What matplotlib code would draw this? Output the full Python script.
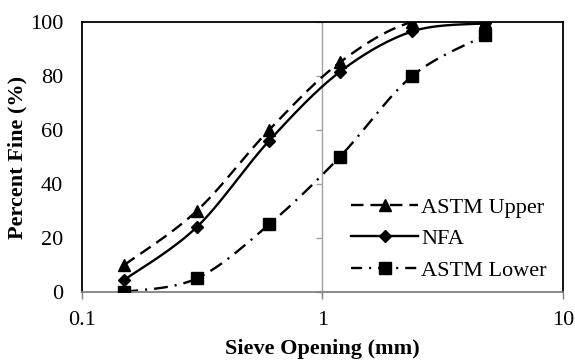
import numpy as np
import matplotlib
matplotlib.use("Agg")
import matplotlib.pyplot as plt
from matplotlib.ticker import NullFormatter

plt.rcParams['font.family'] = ['Liberation Serif', 'DejaVu Serif']
plt.rcParams['lines.scale_dashes'] = False

# data
sieve = [0.15, 0.3, 0.6, 1.18, 2.36, 4.75]
astm_upper = [10, 30, 60, 85, 100, 100]
nfa = [4.5, 24, 56, 81.5, 96.5, 99.5]
astm_lower = [0, 5, 25, 50, 80, 95]


def smooth(x, y, n=30):
    # excel-like smoothed line (catmull-rom in log-x space)
    lx = np.log10(np.asarray(x, dtype=float))
    yy = np.asarray(y, dtype=float)
    P = np.column_stack((lx, yy))
    P = np.vstack((P[0], P, P[-1]))
    out = []
    t = np.linspace(0, 1, n)
    for i in range(1, len(P) - 2):
        p0, p1, p2, p3 = P[i - 1], P[i], P[i + 1], P[i + 2]
        c1 = p1 + (p2 - p0) / 6
        c2 = p2 - (p3 - p1) / 6
        seg = ((1 - t) ** 3)[:, None] * p1 + (3 * (1 - t) ** 2 * t)[:, None] * c1 \
            + (3 * (1 - t) * t ** 2)[:, None] * c2 + (t ** 3)[:, None] * p2
        out.append(seg)
    out = np.vstack(out)
    return 10 ** out[:, 0], out[:, 1]


fig = plt.figure(figsize=(5.75, 3.6), dpi=100)
ax = fig.add_axes([0.1426, 0.189, 0.8364, 0.75])

lw = 1.7
fs = 16
up_ls = (0, (9, 5))
lo_ls = (0, (10, 5, 1.5, 5))

sx, sy = smooth(sieve, astm_upper)
ax.plot(sx, sy, color='k', lw=lw, linestyle=up_ls)
sx, sy = smooth(sieve, nfa)
ax.plot(sx, sy, color='k', lw=lw, linestyle='-')
sx, sy = smooth(sieve, astm_lower)
ax.plot(sx, sy, color='k', lw=lw, linestyle=lo_ls)

ax.plot(sieve, astm_upper, '^', color='k', ms=9, zorder=4)
ax.plot(sieve, nfa, 'D', color='k', ms=6.5, zorder=4)
ax.plot(sieve, astm_lower, 's', color='k', ms=8, zorder=4)

# legend handles
h1, = ax.plot([], [], color='k', lw=lw, linestyle=up_ls, marker='^', ms=9)
h2, = ax.plot([], [], color='k', lw=lw, linestyle='-', marker='D', ms=6.5)
h3, = ax.plot([], [], color='k', lw=lw, linestyle=(0, (8, 5, 1.5, 5)), marker='s', ms=8)
ax.legend([h1, h2, h3], ['ASTM Upper', 'NFA', 'ASTM Lower'], loc='lower right',
          frameon=False, fontsize=fs, handlelength=3.0, handletextpad=0.15,
          labelspacing=0.5, bbox_to_anchor=(0.985, 0.008), borderaxespad=0)

ax.set_xscale('log')
ax.set_xlim(0.1, 10)
ax.set_ylim(0, 100)
ax.set_xticks([0.1, 1, 10])
ax.set_xticklabels(['0.1', '1', '10'])
ax.minorticks_off()
ax.set_yticks([0, 20, 40, 60, 80, 100])

ax.axvline(1, color='#a0a0a0', lw=1, zorder=0)

for s in ['left', 'top', 'right']:
    ax.spines[s].set_color('k')
    ax.spines[s].set_linewidth(1.3)
ax.spines['bottom'].set_color('#808080')
ax.spines['bottom'].set_linewidth(1.3)

ax.tick_params(axis='x', colors='#808080', length=5, width=1, labelcolor='k',
               labelsize=fs, pad=9)
ax.tick_params(axis='y', length=0, labelsize=fs, pad=13.5)

# excel's vertical axis crosses at x = 1
sec = ax.secondary_yaxis(0.5)
sec.set_yticks([0, 20, 40, 60, 80, 100])
sec.yaxis.set_major_formatter(NullFormatter())
sec.yaxis.set_ticks_position('left')
sec.tick_params(axis='y', direction='out', length=4, width=1, colors='#a0a0a0')
sec.spines['left'].set_visible(False)
sec.spines['right'].set_visible(False)

ax.set_xlabel('Sieve Opening (mm)', fontsize=fs, fontweight='bold')
ax.set_ylabel('Percent Fine (%)', fontsize=fs, fontweight='bold')
ax.xaxis.set_label_coords(0.5, -0.211)
ax.xaxis.label.set_va('center')
ax.yaxis.set_label_coords(-0.135, 0.5)
ax.yaxis.label.set_va('center')

fig.savefig('out.png', dpi=100)
